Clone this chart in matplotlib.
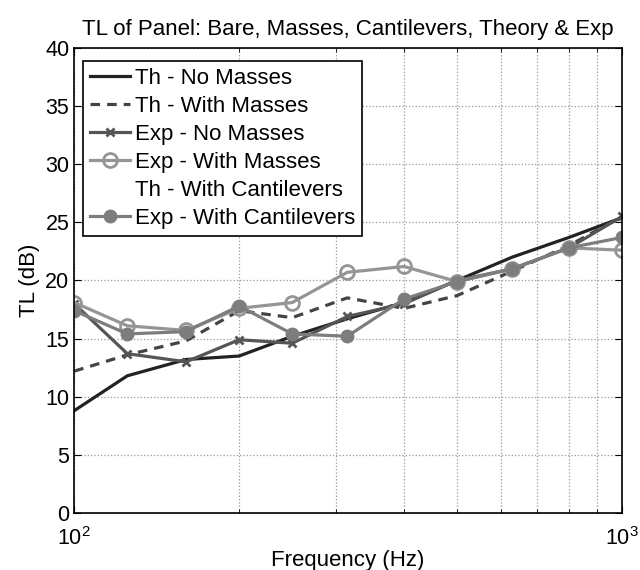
import matplotlib
matplotlib.use('Agg')
import matplotlib.pyplot as plt
from matplotlib.ticker import LogLocator, NullFormatter

plt.rcParams['font.family'] = ['Liberation Sans', 'DejaVu Sans']

# third-octave band centre frequencies (Hz)
freq = [100, 125, 160, 200, 250, 315, 400, 500, 630, 800, 1000]

# transmission loss (dB)
th_no_masses = [8.8, 11.8, 13.2, 13.5, 15.2, 16.7, 18.1, 20.0, 22.0, 23.7, 25.4]
th_with_masses = [12.2, 13.6, 14.8, 17.4, 16.8, 18.5, 17.6, 18.7, 20.8, 23.0, 25.5]
exp_no_masses = [18.0, 13.7, 13.0, 14.9, 14.6, 16.9, 18.0, 20.0, 21.0, 22.8, 25.5]
exp_with_masses = [18.1, 16.1, 15.7, 17.6, 18.1, 20.7, 21.2, 19.9, 21.0, 22.8, 22.6]
exp_cantilevers = [17.4, 15.4, 15.6, 17.8, 15.4, 15.2, 18.4, 19.9, 21.0, 22.8, 23.7]

fig = plt.figure(figsize=(6.4, 5.7), dpi=100)
ax = fig.add_axes([0.116, 0.100, 0.856, 0.816])

lw = 2.3
ax.plot(freq, th_no_masses, color='#222222', lw=lw, label='Th - No Masses')
ax.plot(freq, th_with_masses, color='#444444', lw=lw, ls=(0, (3, 2.2)), label='Th - With Masses')
ax.plot(freq, exp_no_masses, color='#555555', lw=lw, marker='x', ms=6, mew=2,
        label='Exp - No Masses')
ax.plot(freq, exp_with_masses, color='#959595', lw=lw, marker='o', ms=10, mew=2,
        mfc='none', label='Exp - With Masses')
ax.plot([], [], ls='none', label='Th - With Cantilevers')
ax.plot(freq, exp_cantilevers, color='#7d7d7d', lw=lw, marker='o', ms=9,
        label='Exp - With Cantilevers')

ax.set_xscale('log')
ax.set_xlim(100, 1000)
ax.set_ylim(0, 40)
ax.set_yticks(range(0, 41, 5))
ax.xaxis.set_minor_locator(LogLocator(base=10, subs=range(2, 10)))
ax.xaxis.set_minor_formatter(NullFormatter())

ax.grid(True, which='major', ls=':', color='#999999', lw=0.9)
ax.grid(True, which='minor', axis='x', ls=':', color='#999999', lw=0.9)

ax.tick_params(which='both', direction='in', top=True, right=True, labelsize=15.5)
ax.tick_params(axis='x', pad=10)
ax.tick_params(which='major', length=5)
ax.tick_params(which='minor', length=3)
for sp in ax.spines.values():
    sp.set_linewidth(1.2)

ax.set_title('TL of Panel: Bare, Masses, Cantilevers, Theory & Exp', fontsize=16, pad=9)
ax.set_xlabel('Frequency (Hz)', fontsize=16, labelpad=0)
ax.set_ylabel('TL (dB)', fontsize=16, labelpad=4)

leg = ax.legend(loc='upper left', fontsize=16, handlelength=1.8, handletextpad=0.25,
                labelspacing=0.32, borderpad=0.3, borderaxespad=0, fancybox=False,
                framealpha=1, bbox_to_anchor=(0.016, 0.972))
leg.get_frame().set_edgecolor('black')
leg.get_frame().set_linewidth(1.2)

fig.savefig('out.png', dpi=100)
